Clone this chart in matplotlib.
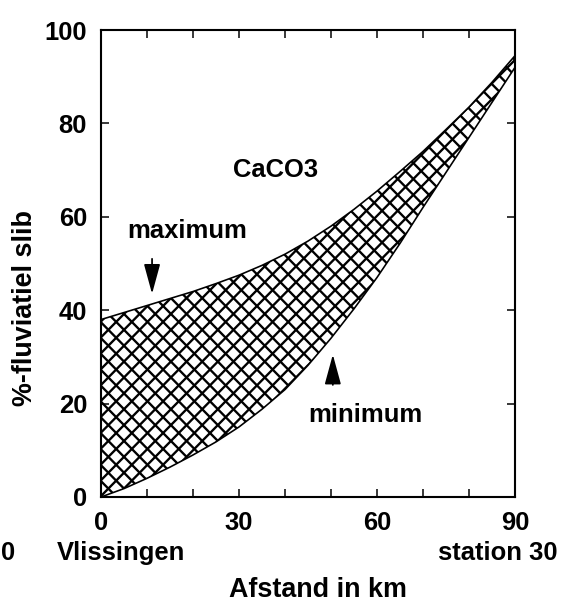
import numpy as np
import matplotlib.pyplot as plt

# afstand vanaf Vlissingen (km) en % fluviatiel slib (CaCO3 methode)
dist = [0, 5, 10, 15, 20, 25, 30, 35, 40, 45, 50, 55, 60, 65, 70, 75, 80, 85, 90]
maximum = [38, 39.5, 41, 42.5, 44, 45.7, 47.5, 49.6, 52, 54.8, 58, 61.6, 65.5,
           69.7, 74, 78.7, 83.5, 88.8, 94.5]
minimum = [0, 1.8, 4, 6.4, 9, 11.8, 15, 18.8, 23, 28.2, 34, 40.3, 47, 54.3,
           62, 69.5, 77, 84.5, 92]

xticks = [0, 30, 60, 90]
yticks = [0, 20, 40, 60, 80, 100]

W, H = 561, 610
DPI = 84
plt.rcParams['font.family'] = ['Liberation Sans', 'DejaVu Sans']
plt.rcParams['font.weight'] = 'bold'

fig = plt.figure(figsize=(W/DPI, H/DPI), dpi=DPI)
ax = fig.add_axes([101/W, 1-497/H, (515-101)/W, (497-30)/H])

band = ax.fill_between(dist, minimum, maximum, facecolor='white', linewidth=0)
clip = band.get_paths()[0]

# kruisarcering, handmatig zodat de dichtheid klopt
step = 3.4
xx = np.array([-5, 95])
for c in np.arange(-95, 100, step):
    l1, = ax.plot(xx, xx + c, color='black', lw=2.0)
    l2, = ax.plot(xx, -xx + c + 95, color='black', lw=2.0)
    l1.set_clip_path(clip, ax.transData)
    l2.set_clip_path(clip, ax.transData)

ax.plot(dist, maximum, color='black', lw=1.4)
ax.plot(dist, minimum, color='black', lw=1.4)

ax.set_xlim(0, 90)
ax.set_ylim(0, 100)
ax.set_xticks(np.arange(0, 91, 10))
ax.set_xticklabels([str(t) if t in xticks else '' for t in range(0, 91, 10)])
ax.set_yticks(yticks)
ax.tick_params(direction='in', length=7, width=1.3, top=True, right=True,
               labelsize=22, pad=12)
for s in ax.spines.values():
    s.set_linewidth(1.8)

fs = 22
ax.text(38, 70, 'CaCO3', fontsize=fs, ha='center', va='center')
ax.text(5.8, 57, 'maximum', fontsize=fs, ha='left', va='center')
ax.text(45, 17.5, 'minimum', fontsize=fs, ha='left', va='center')

ax.annotate('', xy=(11.1, 43.5), xytext=(11.1, 51),
            arrowprops=dict(arrowstyle='-|>,head_length=1.1,head_width=0.3',
                            color='black', lw=1.5, mutation_scale=20,
                            shrinkA=0, shrinkB=0))
ax.annotate('', xy=(50.4, 30.5), xytext=(50.4, 24),
            arrowprops=dict(arrowstyle='-|>,head_length=1.1,head_width=0.3',
                            color='black', lw=1.5, mutation_scale=20,
                            shrinkA=0, shrinkB=0))

fig.text(25/W, 1-308/H, '%-fluviatiel slib', fontsize=23, rotation=90,
         ha='center', va='center')
fig.text(318/W, 1-590/H, 'Afstand in km', fontsize=23, ha='center', va='center')
fig.text(57/W, 1-553/H, 'Vlissingen', fontsize=fs, ha='left', va='center')
fig.text(557/W, 1-553/H, 'station 30', fontsize=fs, ha='right', va='center')
fig.text(1/W, 1-553/H, '0', fontsize=fs, ha='left', va='center')

fig.savefig('out.png', dpi=DPI)
